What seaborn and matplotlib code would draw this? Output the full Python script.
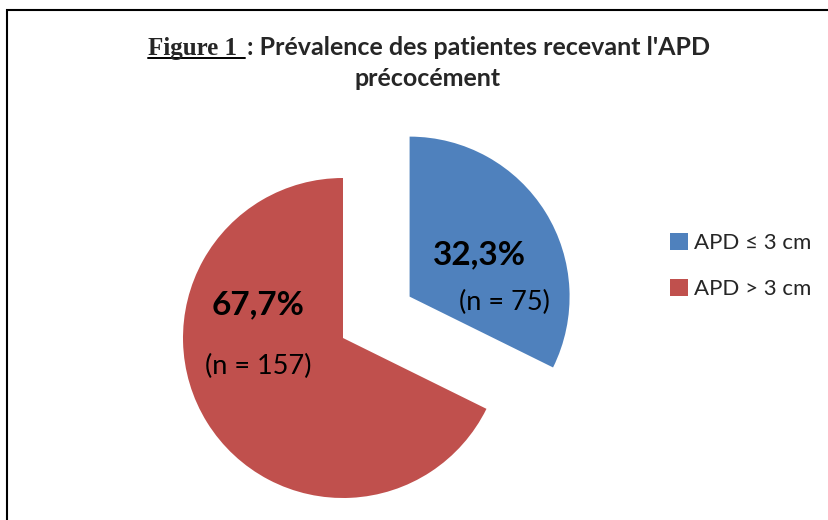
import matplotlib
matplotlib.use("Agg")
import matplotlib.pyplot as plt
import seaborn as sns
from matplotlib.patches import Rectangle
from matplotlib.lines import Line2D

# -----------------------------
# Data
# -----------------------------
categories = ["APD ≤ 3 cm", "APD > 3 cm"]
percents = [32.3, 67.7]
counts = [75, 157]
colors = ["#4F81BD", "#C0504D"]
explode = [0.49, 0.0]

sns.set_theme(style="white")
plt.rcParams["font.family"] = ["Lato", "DejaVu Sans"]

W, H = 829, 520
fig = plt.figure(figsize=(W / 100, H / 100), dpi=100)

# pie axes: centre at (343, 338) px, radius 160 px
R = 160
cx, cy = 343, H - 338
xlim = (-1.2, 1.6)
ylim = (-1.1, 1.35)
ax = fig.add_axes([
    (cx + xlim[0] * R) / W, (cy + ylim[0] * R) / H,
    (xlim[1] - xlim[0]) * R / W, (ylim[1] - ylim[0]) * R / H,
])

wedges, _ = ax.pie(percents, colors=colors, startangle=90, counterclock=False,
                   explode=explode, wedgeprops=dict(linewidth=0))
ax.set_xlim(*xlim)
ax.set_ylim(*ylim)
ax.set_aspect("auto")
ax.axis("off")

# slice labels
pct_pos = [(0.85, 0.52), (-0.53, 0.21)]
n_pos = [(1.01, 0.22), (-0.53, -0.18)]
for p, n, pp, npos in zip(percents, counts, pct_pos, n_pos):
    ax.text(pp[0], pp[1], f"{p:.1f}%".replace(".", ","), ha="center", va="center",
            fontsize=24, fontweight="bold", color="black")
    ax.text(npos[0], npos[1], f"(n = {n})", ha="center", va="center",
            fontsize=19.5, color="black")

# legend
ax.legend(wedges, categories, loc="center left", bbox_to_anchor=(650 / W, 1 - 266 / H),
          bbox_transform=fig.transFigure, frameon=False, fontsize=16,
          handlelength=0.8, handleheight=0.8, handletextpad=0.3, labelspacing=1.15)

# title
t1 = fig.text(148 / W, 1 - 55 / H, "Figure 1", family="Liberation Serif",
              fontweight="bold", fontsize=18, va="baseline", ha="left")
fig.canvas.draw()
bb = t1.get_window_extent()
fig.add_artist(Line2D([bb.x0 / W, (bb.x1 + 8) / W], [1 - 58 / H] * 2, color="black",
                      lw=1.4, transform=fig.transFigure))
fig.text((bb.x1 + 10) / W, 1 - 55 / H, ": Prévalence des patientes recevant l'APD",
         fontweight="bold", fontsize=18, va="baseline", ha="left")
fig.text(428 / W, 1 - 86 / H, "précocément", fontweight="bold", fontsize=18,
         va="baseline", ha="center")

# frame (right and bottom edges fall outside the crop)
fig.add_artist(Rectangle((7 / W, -0.1), 1.2, 1 - 10 / H + 0.1, transform=fig.transFigure,
                         fill=False, edgecolor="black", lw=1.5))

fig.savefig("out.png", dpi=100)
